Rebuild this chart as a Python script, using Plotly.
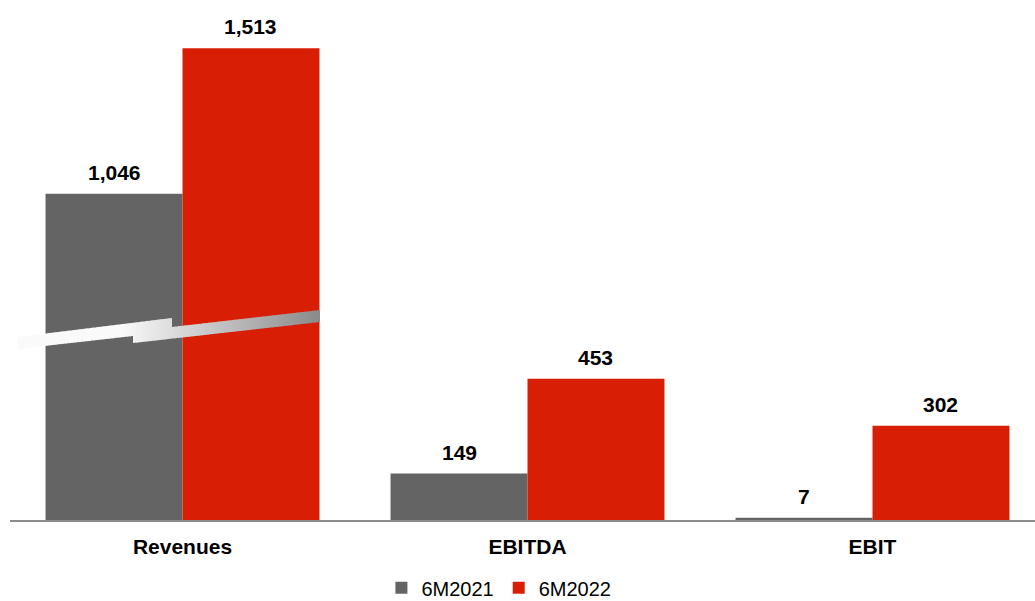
import plotly.graph_objects as go

categories = ["Revenues", "EBITDA", "EBIT"]
series_names = ["6M2021", "6M2022"]
values_2021 = [1046, 149, 7]
values_2022 = [1513, 453, 302]
label_2021 = ["1,046", "149", "7"]
label_2022 = ["1,513", "453", "302"]

GRAY = "#646464"
RED = "#d81e05"
FONT = "Liberation Sans, Arial, sans-serif"

W, H = 1035, 601
ML, MR, MT, MB = 10, 0, 21, 81
plot_w = W - ML - MR
plot_h = H - MT - MB
px_per_cat = 345.0
x_range = [-0.5, -0.5 + plot_w / px_per_cat]
y_range = [0, 1600]
bargap = 0.206
bar_w_px = (1 - bargap) / 2 * px_per_cat

fig = go.Figure()
fig.add_trace(go.Bar(name=series_names[0], x=categories, y=values_2021,
                     marker=dict(color=GRAY, line=dict(width=0))))
fig.add_trace(go.Bar(name=series_names[1], x=categories, y=values_2022,
                     marker=dict(color=RED, line=dict(width=0))))

# value labels
for vals, labs, sign in ((values_2021, label_2021, -1), (values_2022, label_2022, 1)):
    for c, v, t in zip(categories, vals, labs):
        fig.add_annotation(x=c, y=v, text="<b>%s</b>" % t, showarrow=False,
                           xanchor="center", yanchor="bottom",
                           xshift=sign * bar_w_px / 2, yshift=8,
                           font=dict(family=FONT, size=21, color="#000000"))

# axis-break decoration (pixel geometry -> paper coords)
def to_paper(px, py):
    return ((px - ML) / plot_w, (MT + plot_h - py) / plot_h)

def lin(p0, p1, x):
    (x0, y0), (x1, y1) = p0, p1
    return y0 + (y1 - y0) * (x - x0) / (x1 - x0)

def top_edge(x, side):
    if x < 172 or (x == 172 and side == "L"):
        return lin((17, 337), (172, 318), x)
    return lin((172, 327), (320, 310), x)

def bot_edge(x, side):
    if x < 133 or (x == 133 and side == "L"):
        return lin((17, 349), (133, 336), x)
    return lin((133, 343), (320, 322), x)

def shade(x):
    if x <= 120:
        return 250
    return int(round(250 - (250 - 138) * (x - 120) / (320 - 120)))

breaks = [17, 133, 172, 320]
xs = []
for a, b in zip(breaks[:-1], breaks[1:]):
    n = max(1, int((b - a) / 3))
    for i in range(n):
        xs.append((a + (b - a) * i / n, a + (b - a) * (i + 1) / n, b))

for xa, xb, seg_end in xs:
    xb2 = min(xb + 0.8, seg_end)  # slight overlap to avoid seams
    pts = [(xa, top_edge(xa, "R")), (xb2, top_edge(xb2, "L")),
           (xb2, bot_edge(xb2, "L")), (xa, bot_edge(xa, "R"))]
    pp = [to_paper(px, py) for px, py in pts]
    path = "M %f %f L %f %f L %f %f L %f %f Z" % (pp[0] + pp[1] + pp[2] + pp[3])
    g = shade((xa + xb) / 2)
    col = "rgb(%d,%d,%d)" % (g, g, g)
    fig.add_shape(type="path", path=path, xref="paper", yref="paper",
                  fillcolor=col, line=dict(width=0), layer="above")

fig.update_layout(
    width=W, height=H,
    margin=dict(l=ML, r=MR, t=MT, b=MB, autoexpand=False),
    paper_bgcolor="white", plot_bgcolor="white",
    barmode="group", bargap=bargap, bargroupgap=0,
    showlegend=True,
    legend=dict(orientation="h", x=0.477, xanchor="center",
                y=-0.136, yanchor="middle",
                font=dict(family=FONT, size=20, color="#000000"),
                itemwidth=30, traceorder="normal"),
    xaxis=dict(range=x_range, showgrid=False, zeroline=False,
               showline=True, linecolor="#8c8c8c", linewidth=2,
               ticks="", ticklabelstandoff=7, automargin=False,
               tickfont=dict(family=FONT, size=21, color="#000000")),
    yaxis=dict(range=y_range, visible=False, showgrid=False, zeroline=False,
               automargin=False),
)
fig.update_xaxes(tickvals=categories, ticktext=["<b>%s</b>" % c for c in categories])

fig.write_html("out.html")
